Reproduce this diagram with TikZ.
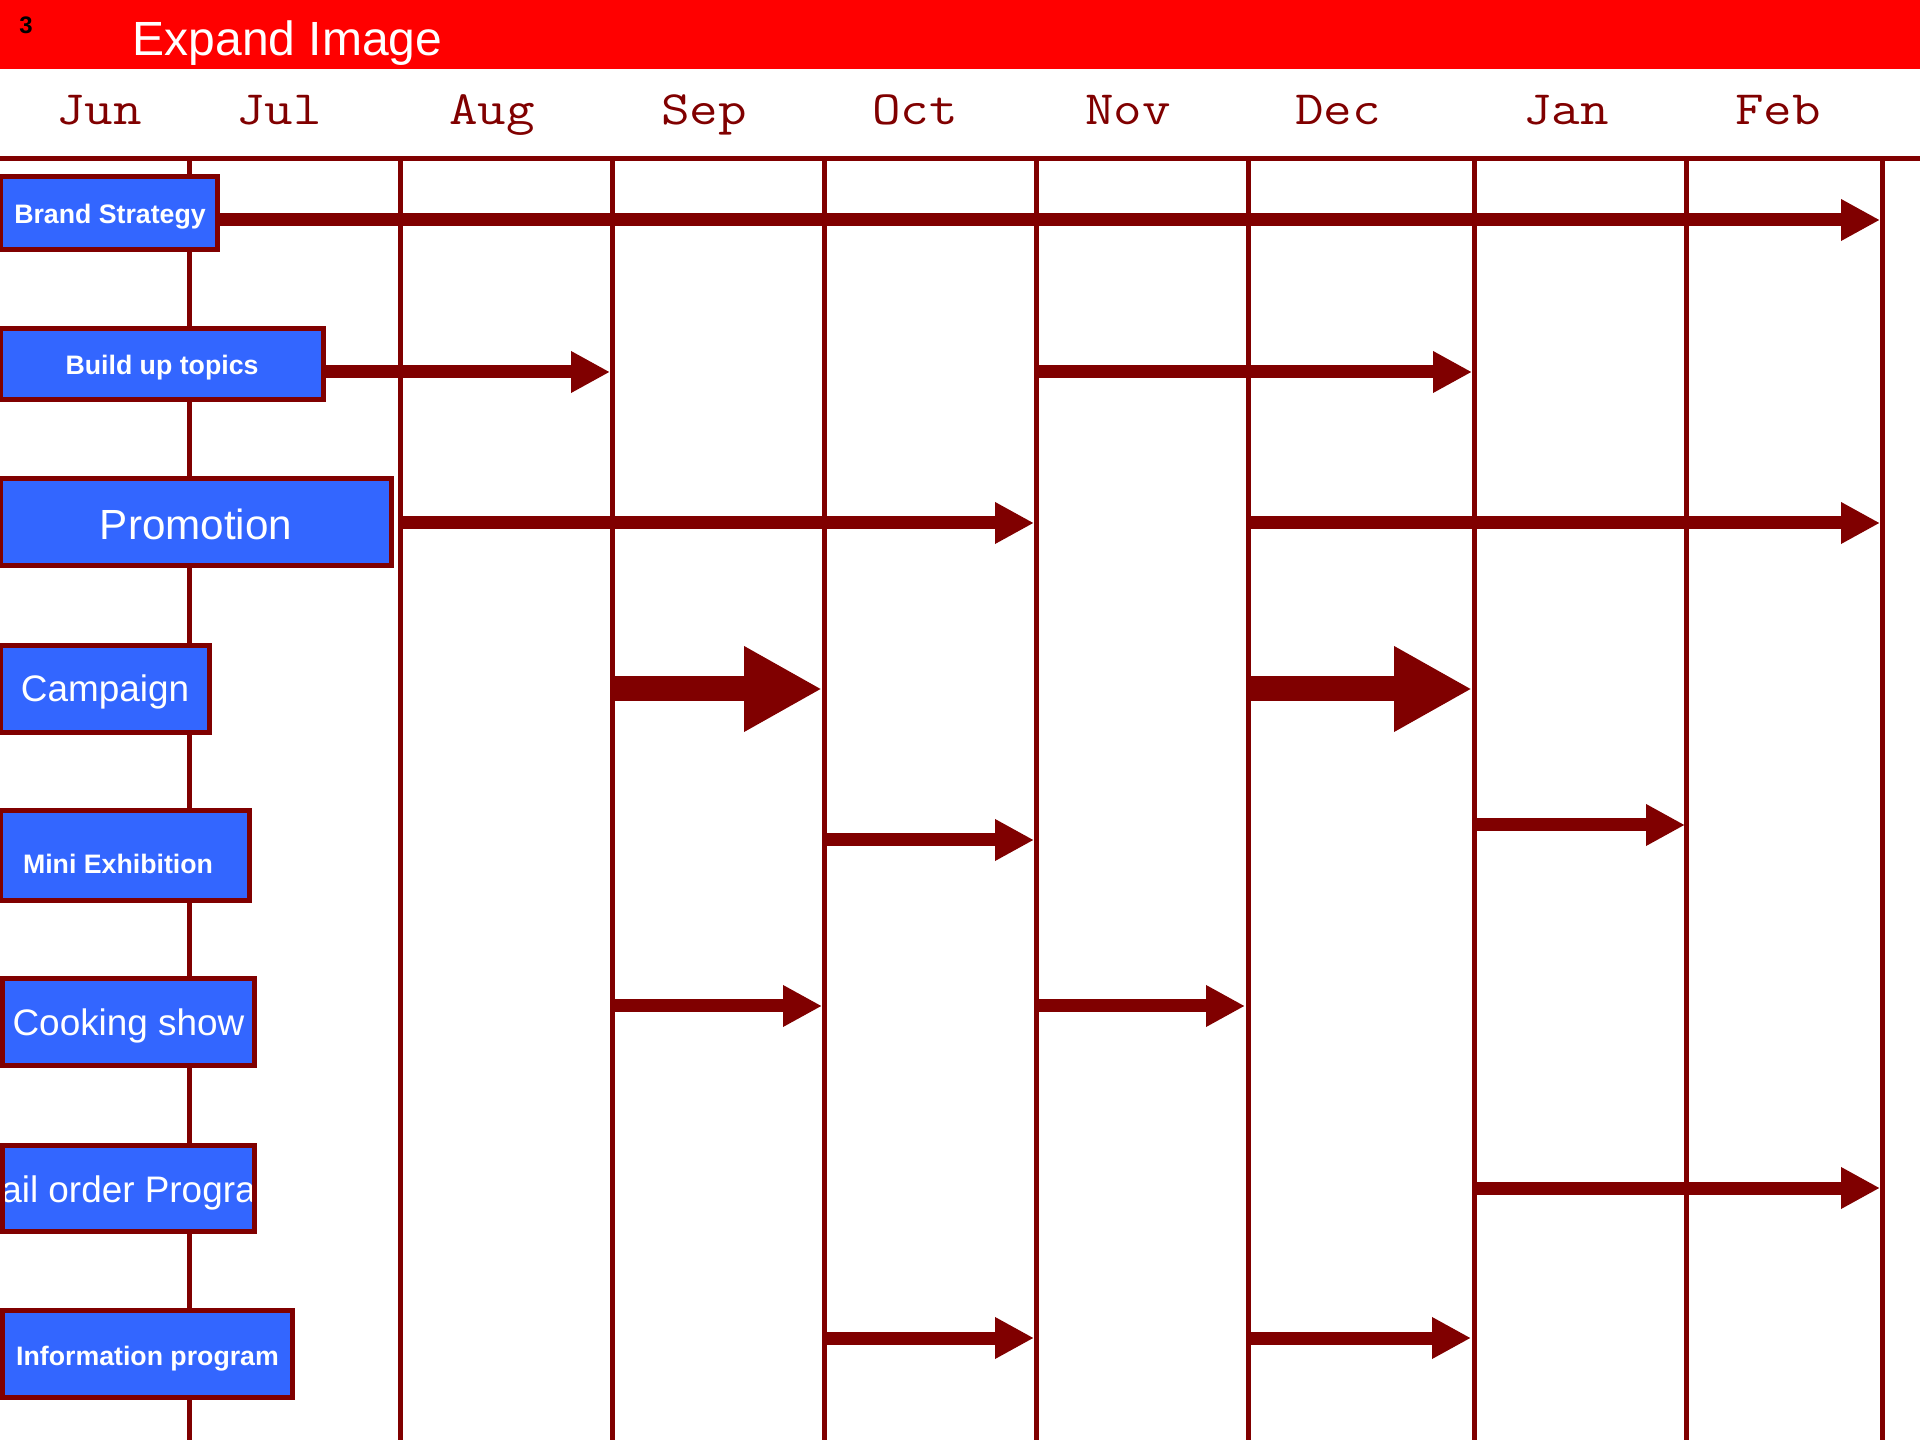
\documentclass[tikz,border=0pt]{standalone}
\usepackage{fontspec}
\setmainfont{Liberation Sans}
\usetikzlibrary{arrows.meta}
\definecolor{darkred}{RGB}{128,0,0}
\definecolor{boxblue}{RGB}{51,102,255}
\definecolor{titlered}{RGB}{255,0,0}

\begin{document}
\begin{tikzpicture}[x=0.1mm, y=-0.1mm,
  task/.style={shape=rectangle, draw=darkred, line width=0.5mm, fill=boxblue, text=white, inner sep=0pt},
  boldlbl/.style={text=white, font=\fontsize{7.6pt}{9pt}\selectfont\bfseries, inner sep=0pt},
  biglbl/.style={text=white, font=\fontsize{10.5pt}{12pt}\selectfont, inner sep=0pt},
  month/.style={text=darkred, font=\ttfamily\fontsize{13.6pt}{16pt}\selectfont, xscale=1.16, anchor=base, inner sep=0pt},
  grid/.style={draw=darkred, line width=0.5mm},
  flow/.style={darkred, line width=1.3mm, -{Triangle[length=3.9mm, width=3.9mm]}},
  bigflow/.style={darkred, line width=2.5mm, -{Triangle[length=7.8mm, width=8mm]}}]
\useasboundingbox (0,0) rectangle (1920,1440);
% header
\fill[titlered] (0,0) rectangle (1920,69);
\node[font=\fontsize{6.8pt}{8pt}\selectfont\bfseries, inner sep=0pt] (pageno) at (26,25) {3};
\node[text=white, font=\fontsize{13.66pt}{16pt}\selectfont, anchor=base west, inner sep=0pt] (title) at (132,56) {Expand Image};
% months
\node[month] (jun) at (99,125) {Jun};
\node[month] (jul) at (279,125) {Jul};
\node[month] (aug) at (492,125) {Aug};
\node[month] (sep) at (704,125) {Sep};
\node[month] (oct) at (915,125) {Oct};
\node[month] (nov) at (1128,125) {Nov};
\node[month] (dec) at (1338,125) {Dec};
\node[month] (jan) at (1566,125) {Jan};
\node[month] (feb) at (1778,125) {Feb};
% grid
\draw[grid] (0,159) -- (1920,159);
\draw[grid] (189,159) -- (189,1440);
\draw[grid] (400,159) -- (400,1440);
\draw[grid] (612,159) -- (612,1440);
\draw[grid] (824,159) -- (824,1440);
\draw[grid] (1036,159) -- (1036,1440);
\draw[grid] (1248,159) -- (1248,1440);
\draw[grid] (1474,159) -- (1474,1440);
\draw[grid] (1686,159) -- (1686,1440);
\draw[grid] (1882,159) -- (1882,1440);
% tasks
\node[task, minimum width=21.7mm, minimum height=7.3mm] (brand) at (109,213) {};
\node[boldlbl] (brandtxt) at (110,217) {Brand Strategy};
\node[task, minimum width=32.3mm, minimum height=7.1mm] (build) at (162,364) {};
\node[boldlbl] (buildtxt) at (162,368) {Build up topics};
\node[task, minimum width=39.1mm, minimum height=8.7mm] (promo) at (196,522) {};
\node[biglbl, font=\fontsize{12pt}{14pt}\selectfont] (promotxt) at (196,524) {Promotion};
\node[task, minimum width=20.9mm, minimum height=8.7mm] (camp) at (105,689) {};
\node[biglbl] (camptxt) at (105,692) {Campaign};
\node[task, minimum width=24.9mm, minimum height=9.0mm] (mini) at (125,855.5) {};
\node[boldlbl] (minitxt) at (118,864) {Mini Exhibition};
\node[task, minimum width=25.2mm, minimum height=8.7mm] (cook) at (128.5,1022) {};
\node[biglbl] (cooktxt) at (128.5,1026) {Cooking show};
\node[task, minimum width=25.2mm, minimum height=8.7mm,
  path picture={\node[biglbl] (mailtxt) at ([yshift=-0.4mm]path picture bounding box.center) {Mail order Program};}] (mail) at (128.5,1188.5) {};
\node[task, minimum width=29.0mm, minimum height=8.7mm] (info) at (147.5,1354) {};
\node[boldlbl] (infotxt) at (147.5,1359) {Information program};
% arrow ends
\coordinate (a1s) at (220,220);  \coordinate (a1e) at (1880,220);
\coordinate (a2s) at (324,372);  \coordinate (a2e) at (610,372);
\coordinate (a3s) at (1036,372); \coordinate (a3e) at (1472,372);
\coordinate (a4s) at (400,523);  \coordinate (a4e) at (1034,523);
\coordinate (a5s) at (1248,523); \coordinate (a5e) at (1880,523);
\coordinate (a6s) at (612,689);  \coordinate (a6e) at (822,689);
\coordinate (a7s) at (1248,689); \coordinate (a7e) at (1472,689);
\coordinate (a8s) at (824,840);  \coordinate (a8e) at (1034,840);
\coordinate (a9s) at (1474,825); \coordinate (a9e) at (1685,825);
\coordinate (a10s) at (612,1006); \coordinate (a10e) at (822,1006);
\coordinate (a11s) at (1036,1006); \coordinate (a11e) at (1245,1006);
\coordinate (a12s) at (1474,1188); \coordinate (a12e) at (1880,1188);
\coordinate (a13s) at (824,1338); \coordinate (a13e) at (1034,1338);
\coordinate (a14s) at (1248,1338); \coordinate (a14e) at (1471,1338);
% arrows
\draw[flow] (a1s) -- (a1e);
\draw[flow] (a2s) -- (a2e);
\draw[flow] (a3s) -- (a3e);
\draw[flow] (a4s) -- (a4e);
\draw[flow] (a5s) -- (a5e);
\draw[bigflow] (a6s) -- (a6e);
\draw[bigflow] (a7s) -- (a7e);
\draw[flow] (a8s) -- (a8e);
\draw[flow] (a9s) -- (a9e);
\draw[flow] (a10s) -- (a10e);
\draw[flow] (a11s) -- (a11e);
\draw[flow] (a12s) -- (a12e);
\draw[flow] (a13s) -- (a13e);
\draw[flow] (a14s) -- (a14e);
\end{tikzpicture}
\end{document}
